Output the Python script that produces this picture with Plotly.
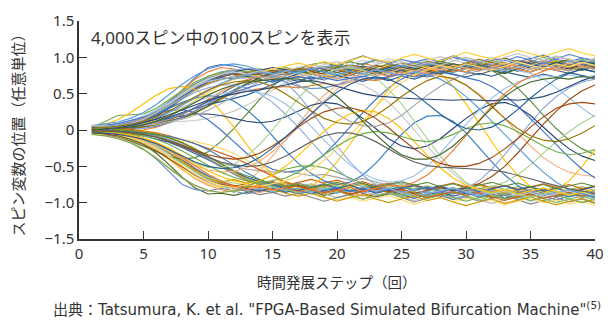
import plotly.graph_objects as go

steps = [1, 2, 3, 4, 5, 6, 7, 8, 9, 10, 11, 12, 13, 14, 15, 16, 17, 18, 19, 20,
         21, 22, 23, 24, 25, 26, 27, 28, 29, 30, 31, 32, 33, 34, 35, 36, 37, 38, 39, 40]

upper_early = [
    [-0.04,-0.01,0.04,0.07,0.12,0.22,0.38,0.55,0.72,0.86, 0.90,0.88,0.84,0.80,0.82,0.79,0.83,0.86,0.84,0.90, 0.95,1.02,0.96,0.92,0.97,0.93,0.98,0.94,1.00,0.95, 0.91,0.96,0.99,0.94,0.98,1.03,0.97,0.94,0.99,0.96],
    [0.03,0.04,0.06,0.09,0.15,0.25,0.40,0.56,0.70,0.80, 0.86,0.84,0.80,0.82,0.78,0.84,0.80,0.87,0.83,0.88, 0.85,0.92,0.87,0.90,0.86,0.93,0.89,0.85,0.91,0.88, 0.94,0.90,0.86,0.92,0.96,0.91,0.95,0.89,0.93,0.90],
    [-0.01,0.01,0.03,0.07,0.13,0.22,0.34,0.48,0.62,0.74, 0.80,0.83,0.81,0.77,0.80,0.76,0.82,0.78,0.74,0.79, 0.84,0.80,0.86,0.82,0.88,0.84,0.80,0.86,0.90,0.85, 0.81,0.87,0.83,0.89,0.85,0.82,0.88,0.84,0.90,0.87],
    [0.06,0.04,0.05,0.08,0.14,0.24,0.37,0.50,0.63,0.72, 0.78,0.76,0.72,0.76,0.73,0.78,0.75,0.80,0.77,0.74, 0.80,0.86,0.82,0.78,0.84,0.92,0.86,0.82,0.88,0.84, 0.90,0.86,0.93,0.88,0.84,0.90,0.95,0.90,0.86,0.92],
    [0.00,0.02,0.05,0.10,0.17,0.27,0.39,0.52,0.64,0.72, 0.76,0.78,0.75,0.72,0.75,0.72,0.77,0.73,0.79,0.76, 0.72,0.78,0.74,0.80,0.86,0.81,0.77,0.83,0.79,0.85, 0.90,0.84,0.80,0.87,0.92,0.86,0.82,0.88,0.84,0.80],
    [0.03,0.12,0.20,0.21,0.22,0.30,0.42,0.55,0.66,0.74, 0.79,0.82,0.80,0.84,0.81,0.86,0.82,0.78,0.83,0.88, 0.84,0.80,0.86,0.91,0.87,0.83,0.89,0.94,0.90,0.85, 0.91,0.96,0.92,0.88,0.94,1.00,0.95,0.91,0.97,0.93],
    [-0.05,-0.01,0.06,0.10,0.16,0.24,0.34,0.46,0.58,0.68, 0.75,0.80,0.84,0.82,0.86,0.83,0.79,0.84,0.80,0.86, 0.82,0.88,0.84,0.80,0.86,0.82,0.89,0.85,0.91,0.87, 0.83,0.89,0.85,0.81,0.87,0.93,0.88,0.84,0.90,0.86],
    [-0.02,0.00,0.03,0.06,0.11,0.19,0.30,0.43,0.56,0.66, 0.73,0.77,0.74,0.78,0.82,0.79,0.85,0.81,0.77,0.82, 0.78,0.84,0.89,0.85,0.81,0.87,0.83,0.79,0.85,0.91, 0.87,0.92,0.88,0.84,0.90,0.86,0.92,0.97,0.92,0.88],
    [0.05,0.05,0.07,0.11,0.17,0.26,0.37,0.49,0.60,0.69, 0.74,0.77,0.79,0.76,0.73,0.77,0.74,0.70,0.75,0.71, 0.77,0.73,0.79,0.75,0.81,0.77,0.73,0.79,0.84,0.80, 0.76,0.82,0.78,0.84,0.80,0.86,0.82,0.78,0.84,0.80],
    [0.00,0.01,0.04,0.08,0.14,0.22,0.32,0.44,0.55,0.64, 0.70,0.74,0.78,0.82,0.79,0.75,0.80,0.84,0.80,0.86, 0.90,0.86,0.82,0.88,0.84,0.90,0.95,0.91,0.86,0.92, 0.88,0.94,0.99,0.94,0.90,0.96,0.92,0.97,0.93,0.98],
    [0.01,0.02,0.04,0.07,0.12,0.20,0.31,0.44,0.57,0.67, 0.72,0.70,0.74,0.70,0.66,0.71,0.67,0.73,0.69,0.75, 0.71,0.67,0.72,0.68,0.74,0.70,0.76,0.81,0.77,0.73, 0.78,0.74,0.80,0.76,0.72,0.77,0.73,0.79,0.75,0.71],
]

lower_early = [
    [0.03,-0.01,-0.07,-0.12,-0.20,-0.32,-0.48,-0.65,-0.80,-0.88, -0.87,-0.90,-0.86,-0.82,-0.86,-0.83,-0.88,-0.84,-0.90,-0.86, -0.82,-0.87,-0.92,-0.88,-0.84,-0.89,-0.85,-0.91,-0.87,-0.83, -0.88,-0.93,-0.89,-0.85,-0.90,-0.86,-0.92,-0.88,-0.84,-0.89],
    [-0.03,-0.06,-0.10,-0.16,-0.26,-0.40,-0.58,-0.75,-0.82,-0.84, -0.80,-0.84,-0.88,-0.84,-0.80,-0.85,-0.81,-0.77,-0.82,-0.86, -0.82,-0.87,-0.83,-0.79,-0.84,-0.88,-0.84,-0.80,-0.85,-0.90, -0.86,-0.82,-0.87,-0.83,-0.88,-0.93,-0.88,-0.84,-0.89,-0.85],
    [-0.01,-0.03,-0.06,-0.10,-0.17,-0.27,-0.40,-0.54,-0.67,-0.76, -0.82,-0.85,-0.81,-0.86,-0.82,-0.78,-0.83,-0.79,-0.85,-0.81, -0.86,-0.91,-0.87,-0.83,-0.88,-0.84,-0.80,-0.85,-0.81,-0.87, -0.83,-0.89,-0.85,-0.81,-0.86,-0.82,-0.88,-0.84,-0.90,-0.86],
    [-0.06,-0.05,-0.05,-0.09,-0.15,-0.24,-0.36,-0.50,-0.63,-0.72, -0.78,-0.80,-0.77,-0.81,-0.77,-0.82,-0.86,-0.82,-0.88,-0.93, -0.88,-0.84,-0.90,-0.86,-0.92,-0.97,-0.92,-0.88,-0.94,-0.90, -0.96,-1.01,-0.96,-0.92,-0.98,-0.94,-1.00,-0.95,-0.91,-0.97],
    [-0.02,-0.03,-0.06,-0.11,-0.18,-0.28,-0.41,-0.55,-0.66,-0.74, -0.79,-0.76,-0.80,-0.76,-0.72,-0.77,-0.73,-0.79,-0.75,-0.80, -0.85,-0.81,-0.77,-0.82,-0.78,-0.84,-0.80,-0.86,-0.82,-0.78, -0.83,-0.79,-0.85,-0.81,-0.87,-0.83,-0.79,-0.84,-0.80,-0.86],
    [0.05,0.02,-0.04,-0.08,-0.14,-0.22,-0.33,-0.46,-0.58,-0.68, -0.75,-0.80,-0.84,-0.80,-0.85,-0.81,-0.87,-0.83,-0.79,-0.84, -0.89,-0.85,-0.81,-0.86,-0.82,-0.88,-0.84,-0.90,-0.95,-0.90, -0.86,-0.92,-0.88,-0.94,-0.90,-0.86,-0.91,-0.87,-0.93,-0.89],
    [-0.01,-0.02,-0.04,-0.08,-0.13,-0.21,-0.32,-0.45,-0.57,-0.67, -0.74,-0.86,-0.76,-0.72,-0.77,-0.73,-0.78,-0.74,-0.80,-0.76, -0.82,-0.78,-0.74,-0.79,-0.75,-0.81,-0.77,-0.83,-0.79,-0.85, -0.81,-0.77,-0.82,-0.78,-0.84,-0.80,-0.86,-0.82,-0.78,-0.83],
    [0.05,0.03,-0.03,-0.07,-0.12,-0.19,-0.29,-0.41,-0.53,-0.63, -0.71,-0.77,-0.81,-0.84,-0.80,-0.86,-0.82,-0.88,-0.84,-0.80, -0.85,-0.81,-0.87,-0.83,-0.89,-0.94,-0.89,-0.85,-0.91,-0.87, -0.83,-0.88,-0.94,-0.90,-0.86,-0.91,-0.96,-0.91,-0.87,-0.93],
    [-0.03,-0.04,-0.06,-0.09,-0.14,-0.21,-0.31,-0.43,-0.55,-0.65, -0.72,-0.76,-0.79,-0.75,-0.71,-0.76,-0.72,-0.68,-0.73,-0.69, -0.75,-0.71,-0.77,-0.73,-0.79,-0.75,-0.81,-0.77,-0.73,-0.78, -0.74,-0.80,-0.76,-0.82,-0.78,-0.74,-0.79,-0.75,-0.81,-0.77],
    [-0.05,-0.04,-0.03,-0.06,-0.11,-0.18,-0.28,-0.40,-0.53,-0.64, -0.73,-0.80,-0.85,-0.89,-0.86,-0.91,-0.87,-0.93,-0.98,-0.93, -0.89,-0.95,-0.91,-0.87,-0.93,-0.99,-0.94,-0.90,-0.96,-0.92, -0.98,-0.94,-0.90,-0.96,-1.02,-0.97,-0.93,-0.99,-0.95,-1.01],
    [-0.02,-0.03,-0.05,-0.08,-0.13,-0.20,-0.30,-0.43,-0.56,-0.66, -0.72,-0.68,-0.73,-0.69,-0.75,-0.71,-0.77,-0.82,-0.78,-0.74, -0.79,-0.75,-0.81,-0.86,-0.81,-0.77,-0.82,-0.78,-0.84,-0.80, -0.76,-0.81,-0.87,-0.83,-0.79,-0.84,-0.90,-0.85,-0.81,-0.86],
]

upper_late = [
    [0.01,0.00,0.01,0.03,0.05,0.09,0.14,0.21,0.30,0.40, 0.50,0.60,0.68,0.74,0.79,0.82,0.78,0.84,0.80,0.86, 0.82,0.88,0.83,0.79,0.85,0.81,0.87,0.92,0.88,0.84, 0.90,0.86,0.82,0.88,0.94,0.90,0.86,0.92,0.88,0.94],
    [-0.05,-0.03,0.00,0.02,0.04,0.07,0.11,0.16,0.23,0.32, 0.42,0.53,0.63,0.71,0.77,0.81,0.85,0.81,0.87,0.83, 0.79,0.85,0.81,0.87,0.92,0.88,0.84,0.90,0.86,0.92, 0.97,0.93,0.89,0.95,0.91,0.86,0.92,0.88,0.84,0.89],
    [0.02,0.03,0.04,0.06,0.09,0.13,0.18,0.24,0.30,0.35, 0.39,0.43,0.48,0.55,0.63,0.71,0.78,0.83,0.86,0.82, 0.88,0.84,0.80,0.86,0.82,0.88,0.93,0.89,0.85,0.91, 0.87,0.83,0.89,0.95,0.91,0.87,0.93,0.89,0.95,0.91],
    [0.00,0.01,0.02,0.03,0.05,0.08,0.12,0.17,0.24,0.33, 0.44,0.55,0.64,0.72,0.78,0.75,0.81,0.77,0.83,0.79, 0.75,0.81,0.77,0.83,0.79,0.85,0.81,0.77,0.83,0.80, 0.86,0.82,0.78,0.84,0.80,0.86,0.91,0.86,0.82,0.88],
    [-0.02,-0.01,-0.01,0.00,0.02,0.05,0.10,0.17,0.26,0.36, 0.46,0.55,0.62,0.68,0.73,0.77,0.80,0.83,0.86,0.90, 0.86,0.92,0.97,0.92,0.88,0.94,0.90,0.96,1.02,0.97, 0.93,0.99,0.95,1.01,0.96,0.92,0.98,1.04,0.99,0.95],
    [0.06,0.05,0.04,0.05,0.07,0.10,0.15,0.22,0.31,0.42, 0.53,0.62,0.69,0.74,0.70,0.76,0.72,0.78,0.74,0.70, 0.76,0.82,0.78,0.74,0.80,0.76,0.82,0.88,0.84,0.80, 0.86,0.82,0.88,0.84,0.80,0.86,0.82,0.88,0.93,0.88],
    [0.01,0.02,0.03,0.04,0.06,0.08,0.11,0.15,0.20,0.27, 0.36,0.46,0.57,0.67,0.75,0.81,0.86,0.90,0.86,0.82, 0.88,0.84,0.90,0.95,0.91,0.87,0.93,0.89,0.95,1.00, 0.95,0.91,0.97,0.93,0.89,0.95,1.01,0.96,0.92,0.98],
    [0.00,0.02,0.04,0.06,0.09,0.14,0.21,0.30,0.41,0.52, 0.62,0.70,0.76,0.80,0.84,0.88,0.92,0.88,0.94,0.90, 0.96,1.01,0.97,0.93,0.99,1.04,0.99,0.95,1.01,1.07, 1.02,0.98,1.04,1.10,1.05,1.01,1.07,1.12,1.06,1.02],
]

lower_late = [
    [0.00,-0.01,-0.02,-0.03,-0.05,-0.08,-0.13,-0.20,-0.29,-0.39, -0.50,-0.60,-0.68,-0.74,-0.79,-0.83,-0.80,-0.85,-0.81,-0.87, -0.83,-0.79,-0.84,-0.80,-0.86,-0.91,-0.87,-0.83,-0.88,-0.84, -0.90,-0.86,-0.82,-0.87,-0.93,-0.89,-0.85,-0.90,-0.86,-0.92],
    [0.06,0.04,0.00,-0.02,-0.04,-0.07,-0.11,-0.17,-0.25,-0.35, -0.46,-0.57,-0.66,-0.73,-0.78,-0.82,-0.86,-0.82,-0.88,-0.84, -0.90,-0.95,-0.90,-0.86,-0.92,-0.88,-0.94,-0.89,-0.85,-0.91, -0.96,-0.91,-0.87,-0.93,-0.89,-0.95,-1.00,-0.95,-0.91,-0.96],
    [-0.01,-0.02,-0.03,-0.05,-0.08,-0.12,-0.17,-0.24,-0.32,-0.41, -0.50,-0.58,-0.65,-0.71,-0.76,-0.80,-0.83,-0.79,-0.75,-0.80, -0.76,-0.82,-0.78,-0.84,-0.80,-0.76,-0.81,-0.77,-0.83,-0.79, -0.85,-0.81,-0.77,-0.82,-0.78,-0.84,-0.80,-0.86,-0.82,-0.78],
    [0.01,0.02,0.02,0.01,-0.01,-0.04,-0.08,-0.13,-0.19,-0.25, -0.31,-0.38,-0.46,-0.55,-0.64,-0.72,-0.78,-0.83,-0.87,-0.83, -0.89,-0.85,-0.81,-0.86,-0.82,-0.88,-0.93,-0.89,-0.85,-0.90, -0.86,-0.92,-0.97,-0.92,-0.88,-0.94,-0.90,-0.86,-0.91,-0.87],
    [-0.02,-0.02,-0.03,-0.04,-0.06,-0.09,-0.14,-0.21,-0.30,-0.40, -0.51,-0.61,-0.69,-0.75,-0.72,-0.77,-0.73,-0.78,-0.74,-0.79, -0.84,-0.80,-0.76,-0.81,-0.86,-0.82,-0.78,-0.83,-0.88,-0.84, -0.80,-0.85,-0.90,-0.86,-0.82,-0.87,-0.92,-0.88,-0.84,-0.89],
    [0.05,0.04,0.01,0.00,-0.02,-0.05,-0.10,-0.17,-0.26,-0.36, -0.47,-0.58,-0.68,-0.76,-0.82,-0.87,-0.91,-0.87,-0.92,-0.98, -0.93,-0.89,-0.95,-1.00,-0.95,-0.91,-0.97,-0.93,-0.99,-1.04, -0.99,-0.95,-1.01,-0.96,-0.92,-0.98,-1.03,-0.98,-0.94,-1.00],
    [0.00,0.00,-0.01,-0.02,-0.04,-0.06,-0.09,-0.13,-0.19,-0.27, -0.37,-0.48,-0.59,-0.68,-0.75,-0.80,-0.84,-0.87,-0.83,-0.79, -0.84,-0.80,-0.86,-0.82,-0.78,-0.83,-0.79,-0.85,-0.81,-0.87, -0.92,-0.87,-0.83,-0.89,-0.85,-0.81,-0.86,-0.82,-0.88,-0.84],
    [-0.01,0.00,0.00,-0.01,-0.03,-0.06,-0.11,-0.18,-0.27,-0.37, -0.47,-0.56,-0.63,-0.69,-0.74,-0.78,-0.75,-0.80,-0.76,-0.72, -0.77,-0.73,-0.79,-0.75,-0.71,-0.76,-0.72,-0.78,-0.74,-0.80, -0.76,-0.72,-0.77,-0.73,-0.79,-0.75,-0.81,-0.77,-0.73,-0.78],
]

crossers = [
    [-0.04,-0.02,0.05,0.09,0.15,0.23,0.33,0.43,0.52,0.58, 0.62,0.62,0.58,0.50,0.38,0.22,0.04,-0.16,-0.36,-0.54, -0.68,-0.78,-0.84,-0.80,-0.86,-0.82,-0.88,-0.84,-0.80,-0.85, -0.91,-0.86,-0.82,-0.88,-0.84,-0.90,-0.86,-0.82,-0.87,-0.83],
    [-0.02,-0.03,-0.05,-0.09,-0.14,-0.21,-0.30,-0.40,-0.49,-0.55, -0.58,-0.57,-0.52,-0.43,-0.30,-0.14,0.04,0.22,0.40,0.56, 0.68,0.77,0.83,0.79,0.85,0.81,0.87,0.83,0.89,0.85, 0.81,0.86,0.92,0.88,0.84,0.90,0.86,0.92,0.88,0.84],
    [0.00,0.02,0.05,0.09,0.15,0.24,0.36,0.49,0.61,0.70, 0.76,0.80,0.77,0.81,0.78,0.74,0.79,0.75,0.70,0.72, 0.68,0.62,0.52,0.38,0.20,0.00,-0.22,-0.42,-0.60,-0.74, -0.83,-0.88,-0.84,-0.90,-0.86,-0.92,-0.88,-0.84,-0.89,-0.85],
    [-0.01,-0.03,-0.06,-0.10,-0.16,-0.25,-0.37,-0.50,-0.61,-0.70, -0.76,-0.79,-0.75,-0.78,-0.74,-0.70,-0.64,-0.55,-0.42,-0.26, -0.08,0.12,0.32,0.50,0.65,0.76,0.84,0.89,0.85,0.91, 0.87,0.83,0.88,0.94,0.89,0.85,0.91,0.87,0.93,0.89],
    [0.06,0.05,0.05,0.08,0.12,0.18,0.25,0.32,0.39,0.45, 0.50,0.53,0.54,0.52,0.46,0.36,0.22,0.05,-0.14,-0.32, -0.48,-0.60,-0.68,-0.72,-0.70,-0.63,-0.50,-0.32,-0.12,0.08, 0.27,0.44,0.57,0.66,0.72,0.75,0.73,0.76,0.72,0.75],
    [-0.01,-0.02,-0.04,-0.08,-0.13,-0.20,-0.29,-0.38,-0.46,-0.51, -0.52,-0.47,-0.36,-0.20,0.00,0.22,0.44,0.62,0.76,0.84, 0.86,0.82,0.72,0.56,0.36,0.12,-0.12,-0.36,-0.56,-0.72, -0.82,-0.87,-0.83,-0.88,-0.93,-0.88,-0.84,-0.89,-0.85,-0.91],
    [0.00,0.01,0.02,0.04,0.07,0.11,0.16,0.23,0.31,0.39, 0.46,0.52,0.58,0.63,0.68,0.71,0.73,0.70,0.72,0.68, 0.71,0.74,0.70,0.73,0.77,0.73,0.76,0.80,0.76,0.72, 0.68,0.60,0.48,0.33,0.16,-0.02,-0.20,-0.38,-0.54,-0.66],
    [-0.02,-0.03,-0.05,-0.08,-0.12,-0.18,-0.27,-0.38,-0.50,-0.61, -0.70,-0.77,-0.82,-0.78,-0.83,-0.79,-0.85,-0.81,-0.87,-0.83, -0.79,-0.84,-0.80,-0.76,-0.78,-0.72,-0.62,-0.47,-0.28,-0.08, 0.13,0.33,0.50,0.64,0.74,0.81,0.86,0.82,0.88,0.84],
    [0.01,0.03,0.06,0.10,0.16,0.24,0.34,0.45,0.55,0.63, 0.69,0.73,0.76,0.72,0.75,0.70,0.62,0.50,0.36,0.22, 0.12,0.06,0.05,0.10,0.20,0.34,0.48,0.60,0.70,0.77, 0.82,0.86,0.82,0.87,0.83,0.89,0.85,0.81,0.87,0.83],
    [-0.01,-0.02,-0.04,-0.07,-0.11,-0.17,-0.25,-0.35,-0.46,-0.56, -0.64,-0.70,-0.74,-0.70,-0.62,-0.50,-0.35,-0.18,-0.02,0.12, 0.22,0.27,0.25,0.16,0.02,-0.16,-0.35,-0.52,-0.66,-0.76, -0.82,-0.86,-0.82,-0.88,-0.84,-0.80,-0.85,-0.90,-0.86,-0.82],
    [0.02,0.03,0.04,0.06,0.10,0.16,0.24,0.34,0.45,0.55, 0.64,0.71,0.76,0.80,0.77,0.82,0.78,0.84,0.80,0.76, 0.81,0.77,0.83,0.79,0.75,0.80,0.76,0.70,0.60,0.46, 0.30,0.12,-0.06,-0.24,-0.42,-0.58,-0.72,-0.82,-0.88,-0.92],
    [-0.02,-0.02,-0.03,-0.05,-0.08,-0.13,-0.20,-0.29,-0.39,-0.49, -0.58,-0.65,-0.70,-0.73,-0.70,-0.66,-0.58,-0.47,-0.34,-0.22, -0.12,-0.05,-0.02,-0.04,-0.09,-0.14,-0.16,-0.13,-0.06,0.02, 0.08,0.10,0.06,-0.02,-0.12,-0.22,-0.30,-0.34,-0.32,-0.27],
]

wanderers = [
    [0.00,0.01,0.03,0.06,0.10,0.15,0.21,0.28,0.35,0.41, 0.46,0.50,0.53,0.55,0.58,0.62,0.66,0.68,0.65,0.60, 0.54,0.50,0.47,0.45,0.44,0.43,0.42,0.42,0.41,0.42, 0.41,0.40,0.42,0.41,0.43,0.46,0.52,0.60,0.68,0.74],
    [-0.01,-0.01,-0.02,-0.04,-0.06,-0.10,-0.15,-0.21,-0.28,-0.34, -0.38,-0.40,-0.38,-0.32,-0.22,-0.10,0.04,0.16,0.25,0.30, 0.31,0.26,0.16,0.03,-0.12,-0.26,-0.38,-0.46,-0.50,-0.50, -0.46,-0.38,-0.26,-0.12,0.04,0.18,0.30,0.36,0.38,0.36],
    [0.01,0.00,-0.01,-0.03,-0.06,-0.10,-0.16,-0.23,-0.31,-0.38, -0.44,-0.48,-0.50,-0.49,-0.44,-0.36,-0.26,-0.16,-0.08,-0.04, -0.04,-0.08,-0.16,-0.26,-0.36,-0.44,-0.49,-0.51,-0.52,-0.52, -0.53,-0.55,-0.58,-0.62,-0.67,-0.72,-0.77,-0.81,-0.84,-0.87],
    [0.02,0.03,0.05,0.08,0.12,0.18,0.26,0.36,0.46,0.55, 0.62,0.66,0.68,0.66,0.60,0.50,0.38,0.26,0.16,0.10, 0.08,0.12,0.20,0.32,0.46,0.58,0.68,0.74,0.71,0.62, 0.48,0.32,0.16,0.02,-0.08,-0.14,-0.16,-0.12,-0.04,0.06],
    [-0.03,-0.04,-0.06,-0.09,-0.13,-0.19,-0.27,-0.36,-0.44,-0.50, -0.53,-0.52,-0.47,-0.38,-0.25,-0.10,0.06,0.22,0.38,0.52, 0.63,0.70,0.73,0.70,0.62,0.50,0.36,0.22,0.10,0.02, 0.00,0.04,0.14,0.28,0.44,0.58,0.70,0.78,0.84,0.80],
    [0.00,0.01,0.02,0.04,0.07,0.12,0.19,0.28,0.38,0.48, 0.56,0.62,0.66,0.68,0.70,0.71,0.70,0.66,0.58,0.46, 0.30,0.12,-0.06,-0.22,-0.34,-0.40,-0.40,-0.34,-0.22,-0.06, 0.12,0.30,0.46,0.58,0.66,0.70,0.72,0.70,0.74,0.71],
]

switchers = [
    [0.04,0.05,0.07,0.10,0.15,0.22,0.30,0.38,0.44,0.47, 0.46,0.40,0.28,0.12,-0.08,-0.28,-0.46,-0.60,-0.70,-0.75, -0.72,-0.62,-0.46,-0.26,-0.06,0.10,0.19,0.20,0.12,-0.04, -0.24,-0.44,-0.62,-0.76,-0.86,-0.90,-0.86,-0.92,-0.88,-0.94],
    [-0.05,-0.07,-0.10,-0.15,-0.22,-0.30,-0.37,-0.40,-0.38,-0.30, -0.16,0.02,0.22,0.42,0.60,0.74,0.84,0.90,0.93,0.88, 0.94,0.90,0.96,0.91,0.87,0.93,0.89,0.95,0.90,0.86, 0.88,0.82,0.72,0.58,0.40,0.20,0.02,-0.14,-0.26,-0.34],
    [0.05,0.06,0.09,0.13,0.19,0.27,0.37,0.48,0.59,0.69, 0.77,0.82,0.85,0.83,0.78,0.66,0.48,0.26,0.02,-0.22, -0.44,-0.62,-0.76,-0.86,-0.90,-0.86,-0.92,-0.88,-0.84,-0.80, -0.70,-0.54,-0.34,-0.12,0.10,0.30,0.46,0.58,0.66,0.70],
    [-0.04,-0.07,-0.11,-0.17,-0.26,-0.38,-0.52,-0.66,-0.77,-0.84, -0.86,-0.82,-0.72,-0.56,-0.36,-0.14,0.08,0.30,0.48,0.62, 0.72,0.78,0.74,0.80,0.76,0.82,0.78,0.74,0.70,0.62, 0.50,0.34,0.16,-0.04,-0.22,-0.38,-0.50,-0.58,-0.62,-0.64],
    [0.06,0.05,0.06,0.07,0.08,0.09,0.10,0.11,0.13,0.16, 0.20,0.26,0.34,0.44,0.55,0.66,0.76,0.84,0.90,0.94, 0.90,0.96,0.92,0.98,0.94,0.90,0.96,1.01,0.96,0.92, 0.98,0.94,1.00,1.05,1.00,0.96,1.02,0.97,0.93,0.99],
    [-0.06,-0.05,-0.05,-0.06,-0.07,-0.09,-0.11,-0.13,-0.16,-0.20, -0.25,-0.32,-0.41,-0.51,-0.62,-0.72,-0.81,-0.88,-0.93,-0.96, -0.92,-0.98,-0.94,-0.90,-0.96,-1.02,-0.97,-0.93,-0.99,-0.95, -0.91,-0.97,-1.03,-0.98,-0.94,-1.00,-0.96,-1.02,-0.98,-1.04],
    [0.03,0.05,0.08,0.12,0.18,0.27,0.38,0.50,0.60,0.67, 0.71,0.74,0.70,0.74,0.71,0.76,0.72,0.78,0.74,0.80, 0.76,0.82,0.78,0.84,0.80,0.76,0.81,0.77,0.83,0.79, 0.85,0.81,0.86,0.82,0.78,0.70,0.58,0.44,0.30,0.18],
    [-0.04,-0.05,-0.08,-0.12,-0.18,-0.26,-0.36,-0.47,-0.57,-0.65, -0.70,-0.73,-0.76,-0.72,-0.77,-0.73,-0.79,-0.75,-0.81,-0.77, -0.83,-0.79,-0.85,-0.81,-0.77,-0.82,-0.78,-0.84,-0.80,-0.86, -0.82,-0.78,-0.72,-0.62,-0.48,-0.32,-0.16,-0.02,0.10,0.20],
    [0.04,0.06,0.09,0.13,0.18,0.23,0.27,0.28,0.24,0.14, 0.00,-0.16,-0.32,-0.45,-0.54,-0.58,-0.56,-0.48,-0.34,-0.16, 0.04,0.24,0.42,0.58,0.70,0.78,0.84,0.88,0.84,0.90, 0.86,0.92,0.88,0.84,0.90,0.86,0.92,0.88,0.94,0.90],
    [-0.05,-0.04,-0.03,-0.02,0.00,0.04,0.10,0.18,0.27,0.36, 0.44,0.50,0.54,0.57,0.58,0.60,0.58,0.61,0.64,0.62, 0.66,0.70,0.68,0.73,0.77,0.74,0.79,0.84,0.80,0.86, 0.83,0.89,0.86,0.92,0.88,0.94,0.90,0.86,0.92,0.88],
    [0.05,0.04,0.02,0.00,-0.03,-0.08,-0.14,-0.22,-0.30,-0.38, -0.45,-0.50,-0.54,-0.56,-0.58,-0.57,-0.60,-0.63,-0.61,-0.65, -0.69,-0.67,-0.72,-0.76,-0.73,-0.78,-0.83,-0.79,-0.85,-0.81, -0.87,-0.84,-0.90,-0.86,-0.92,-0.88,-0.84,-0.90,-0.86,-0.92],
    [0.05,0.08,0.14,0.24,0.36,0.48,0.57,0.60,0.56,0.44, 0.26,0.04,-0.20,-0.42,-0.62,-0.76,-0.82,-0.78,-0.64,-0.44, -0.20,0.06,0.32,0.56,0.74,0.86,0.88,0.78,0.60,0.36, 0.10,-0.16,-0.42,-0.62,-0.78,-0.86,-0.82,-0.70,-0.50,-0.28],
    [0.06,0.08,0.11,0.16,0.24,0.35,0.49,0.63,0.75,0.84, 0.89,0.91,0.88,0.82,0.74,0.66,0.60,0.57,0.58,0.62, 0.68,0.74,0.80,0.85,0.89,0.85,0.91,0.87,0.83,0.89, 0.85,0.91,0.96,0.91,0.87,0.93,0.89,0.95,0.91,0.87],
    [-0.06,-0.08,-0.12,-0.18,-0.27,-0.39,-0.53,-0.66,-0.76,-0.83, -0.86,-0.84,-0.78,-0.70,-0.61,-0.54,-0.50,-0.49,-0.52,-0.58, -0.66,-0.74,-0.81,-0.86,-0.89,-0.85,-0.91,-0.87,-0.93,-0.98, -0.93,-0.89,-0.95,-0.91,-0.97,-0.93,-0.89,-0.95,-1.00,-0.95],
    [0.03,0.04,0.06,0.08,0.11,0.14,0.17,0.20,0.22,0.22, 0.20,0.16,0.12,0.10,0.12,0.18,0.26,0.34,0.38,0.36, 0.28,0.16,0.02,-0.12,-0.22,-0.26,-0.22,-0.12,0.02,0.16, 0.28,0.36,0.38,0.32,0.20,0.04,-0.12,-0.26,-0.36,-0.42],
    [-0.03,-0.05,-0.08,-0.13,-0.20,-0.29,-0.40,-0.52,-0.62,-0.70, -0.75,-0.78,-0.74,-0.79,-0.75,-0.80,-0.76,-0.82,-0.86,-0.82, -0.88,-0.84,-0.80,-0.85,-0.81,-0.87,-0.83,-0.79,-0.84,-0.80, -0.74,-0.64,-0.50,-0.32,-0.12,0.08,0.26,0.42,0.54,0.62],
]

line_colors = [
    "#4472C4", "#ED7D31", "#A5A5A5", "#FFC000", "#5B9BD5", "#70AD47",
    "#264478", "#9E480E", "#636363", "#997300", "#255E91", "#43682B",
    "#698ED0", "#F1975A", "#B7B7B7", "#FFCD33", "#7CAFDD", "#8CC168",
    "#335AA1", "#D26012", "#848484", "#CC9A00", "#327DC2", "#5A8A39",
    "#8FAADC", "#F4B183", "#C9C9C9", "#FFD966", "#9DC3E6", "#A9D18E",
]

y_tick_vals = [-1.5, -1.0, -0.5, 0, 0.5, 1.0, 1.5]
y_tick_text = ["\u22121.5", "\u22121.0", "\u22120.5", "0", "0.5", "1.0", "1.5"]
x_tick_vals = [0, 5, 10, 15, 20, 25, 30, 35, 40]

note_text = "4,000スピン中の100スピンを表示"
x_title = "時間発展ステップ（回）"
y_title = "スピン変数の位置（任意単位）"
source_text = '出典：Tatsumura, K. et al. "FPGA-Based Simulated Bifurcation Machine"<sup>(5)</sup>'

FONT = "Noto Sans, Noto Sans CJK JP, sans-serif"
WIDE_FONT = "DejaVu Sans, Noto Sans CJK JP, sans-serif"
TEXT = "#333333"

all_lines = []
groups = [upper_early, lower_early, switchers, upper_late, lower_late, crossers, wanderers]
for g in groups:
    all_lines.extend(g)

fig = go.Figure()
for i, vals in enumerate(all_lines):
    fig.add_trace(go.Scatter(
        x=steps[:len(vals)], y=vals, mode="lines",
        line=dict(color=line_colors[i % len(line_colors)], width=1.15),
        showlegend=False, hoverinfo="skip",
    ))

fig.update_layout(
    width=614, height=320,
    margin=dict(l=79, r=10, t=18, b=81),
    paper_bgcolor="white", plot_bgcolor="white",
    font=dict(family=FONT, color=TEXT, size=15),
    showlegend=False,
)
fig.update_xaxes(
    range=[0, 40], tickvals=x_tick_vals, ticks="inside", ticklen=8, tickwidth=1.3,
    tickcolor=TEXT, showline=True, linecolor=TEXT, linewidth=1.5,
    showgrid=False, zeroline=False, tickfont=dict(size=15, family=FONT, color=TEXT),
)
fig.update_yaxes(
    range=[-1.5, 1.5], tickvals=y_tick_vals, ticktext=y_tick_text, ticks="inside",
    ticklen=8, tickwidth=1.3, tickcolor=TEXT, showline=True, linecolor=TEXT,
    linewidth=1.5, showgrid=False, zeroline=False,
    tickfont=dict(size=15, family=FONT, color=TEXT),
)

fig.add_annotation(text=note_text, xref="paper", yref="paper",
                   x=(89 - 79) / 525, y=(239 - 35) / 221, xanchor="left", yanchor="middle",
                   showarrow=False, font=dict(size=17, family=FONT, color=TEXT))
fig.add_annotation(text=x_title, xref="paper", yref="paper",
                   x=(341 - 79) / 525, y=(239 - 283) / 221, xanchor="center", yanchor="middle",
                   showarrow=False, font=dict(size=14.5, family=FONT, color=TEXT))
fig.add_annotation(text=y_title, xref="paper", yref="paper",
                   x=(17 - 79) / 525, y=(239 - 130) / 221, xanchor="center", yanchor="middle",
                   textangle=-90, showarrow=False, font=dict(size=15, family=FONT, color=TEXT))
fig.add_annotation(text=source_text, xref="paper", yref="paper",
                   x=(331 - 79) / 525, y=(239 - 310) / 221, xanchor="center", yanchor="middle",
                   showarrow=False, font=dict(size=15, family=WIDE_FONT, color=TEXT))

fig.write_html("out.html", config={"displayModeBar": False},
               post_script="document.body.style.margin='0px';")
